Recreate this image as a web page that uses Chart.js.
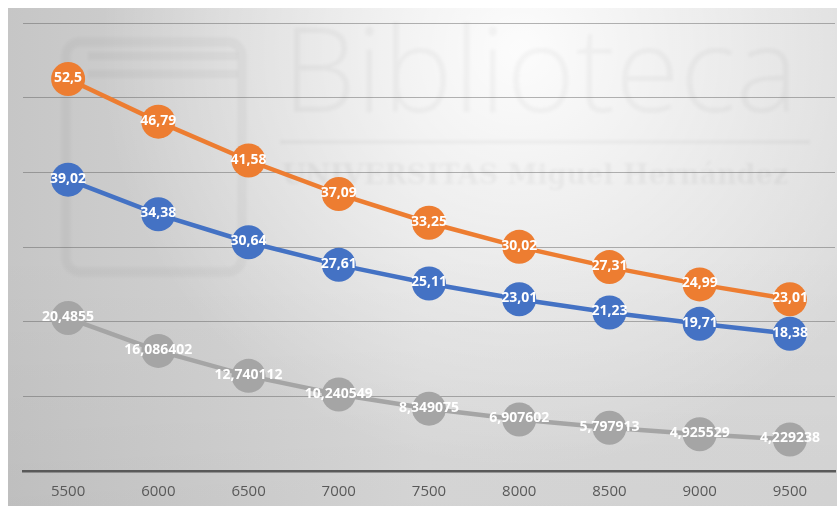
<!DOCTYPE html>
<html>
<head>
<meta charset="utf-8">
<script src="https://cdn.jsdelivr.net/npm/chart.js@4"></script>
<style>
    html, body { margin: 0; padding: 0; background: #fff; }
    .chart-box { width: 837px; height: 506px; }
</style>
</head>
<body>
<div class="chart-box"><canvas id="speedChart"></canvas></div>
<script>
//! Datos
const categories = ['5500', '6000', '6500', '7000', '7500', '8000', '8500', '9000', '9500'];
const serieNaranja = [52.5, 46.79, 41.58, 37.09, 33.25, 30.02, 27.31, 24.99, 23.01];
const serieAzul = [39.02, 34.38, 30.64, 27.61, 25.11, 23.01, 21.23, 19.71, 18.38];
const serieGris = [20.4855, 16.086402, 12.740112, 10.240549, 8.349075, 6.907602, 5.797913, 4.925529, 4.229238];
const yTicks = [0, 10, 20, 30, 40, 50, 60];

//! Fondo degradado + marca de agua
const fondo = {
    id: 'fondo',
    beforeDraw(chart) {
        const { ctx, width, height } = chart;
        ctx.save();
        ctx.fillStyle = '#ffffff';
        ctx.fillRect(0, 0, width, height);

        // base: oscuro a la izquierda, más claro a la derecha
        const base = ctx.createLinearGradient(8, 0, width, 0);
        base.addColorStop(0, '#c6c6c6');
        base.addColorStop(0.5, '#dcdcdc');
        base.addColorStop(1, '#dadada');
        ctx.fillStyle = base;
        ctx.fillRect(8, 8, width - 8, height - 8);

        // brillo arriba al centro
        const luz = ctx.createRadialGradient(520, 50, 10, 520, 50, 420);
        luz.addColorStop(0, 'rgba(255,255,255,0.9)');
        luz.addColorStop(0.5, 'rgba(255,255,255,0.45)');
        luz.addColorStop(1, 'rgba(255,255,255,0)');
        ctx.fillStyle = luz;
        ctx.fillRect(8, 8, width - 8, height - 8);

        // un poco más oscuro abajo
        const sombra = ctx.createLinearGradient(0, 250, 0, height);
        sombra.addColorStop(0, 'rgba(0,0,0,0)');
        sombra.addColorStop(1, 'rgba(0,0,0,0.04)');
        ctx.fillStyle = sombra;
        ctx.fillRect(8, 250, width - 8, height - 250);

        // marca de agua
        ctx.filter = 'blur(1.5px)';
        ctx.fillStyle = 'rgba(0,0,0,0.03)';
        ctx.strokeStyle = 'rgba(0,0,0,0.03)';
        ctx.lineWidth = 9;
        ctx.beginPath();
        ctx.roundRect(66, 42, 176, 230, 14);
        ctx.stroke();
        ctx.fillRect(88, 52, 150, 8);
        ctx.fillRect(88, 70, 150, 8);
        ctx.font = '300 118px "Open Sans", sans-serif';
        ctx.textBaseline = 'alphabetic';
        ctx.fillText('Biblioteca', 282, 112);
        ctx.fillRect(280, 140, 530, 4);
        ctx.fillStyle = 'rgba(0,0,0,0.04)';
        ctx.font = 'bold 27px "DejaVu Serif", serif';
        ctx.fillText('UNIVERSITAS Miguel Hernández', 282, 184);
        ctx.restore();
    }
};

//! Etiquetas dentro de los puntos
const etiquetas = {
    id: 'etiquetas',
    afterDatasetsDraw(chart) {
        const { ctx } = chart;
        ctx.save();
        ctx.font = 'bold 14px "Open Sans", sans-serif';
        ctx.fillStyle = '#ffffff';
        ctx.textAlign = 'center';
        ctx.textBaseline = 'middle';
        chart.data.datasets.forEach((ds, i) => {
            chart.getDatasetMeta(i).data.forEach((pt, j) => {
                const txt = String(ds.data[j]).replace('.', ',');
                ctx.fillText(txt, pt.x, pt.y - 1);
            });
        });
        ctx.restore();
    }
};

const ctx = document.getElementById('speedChart');

const speedChart = new Chart(ctx, {
    type: 'line',
    data: {
        labels: categories,
        datasets: [
            {
                label: 'Gris',
                data: serieGris,
                borderColor: '#a5a5a5',
                backgroundColor: '#a5a5a5',
                borderWidth: 4.5,
                pointRadius: 17,
                pointBorderWidth: 0,
                pointHoverRadius: 17,
            },
            {
                label: 'Azul',
                data: serieAzul,
                borderColor: '#4472c4',
                backgroundColor: '#4472c4',
                borderWidth: 4.5,
                pointRadius: 17,
                pointBorderWidth: 0,
                pointHoverRadius: 17,
            },
            {
                label: 'Naranja',
                data: serieNaranja,
                borderColor: '#ed7d31',
                backgroundColor: '#ed7d31',
                borderWidth: 4.5,
                pointRadius: 17,
                pointBorderWidth: 0,
                pointHoverRadius: 17,
            },
        ]
    },
    options: {
        responsive: true,
        maintainAspectRatio: false,
        animation: false,
        layout: {
            autoPadding: false,
            padding: { left: 23, right: 2, top: 23, bottom: 5 }
        },
        plugins: {
            legend: { display: false },
            tooltip: { enabled: false },
            title: { display: false }
        },
        scales: {
            x: {
                offset: true,
                grid: { display: false, drawTicks: false },
                border: { color: '#595959', width: 2.5 },
                ticks: {
                    color: '#595959',
                    font: { size: 15, family: '"Open Sans", sans-serif' },
                    padding: 12,
                },
                afterFit: (scale) => { scale.height = 30; },
            },
            y: {
                min: 0,
                max: 60,
                afterBuildTicks: (axis) => {
                    axis.ticks = yTicks.map(v => ({ value: v }));
                },
                grid: { color: 'rgba(90,90,90,0.45)', lineWidth: 1, drawTicks: false },
                border: { display: false },
                ticks: { display: false },
            },
        }
    },
    plugins: [fondo, etiquetas]
});
</script>
</body>
</html>
